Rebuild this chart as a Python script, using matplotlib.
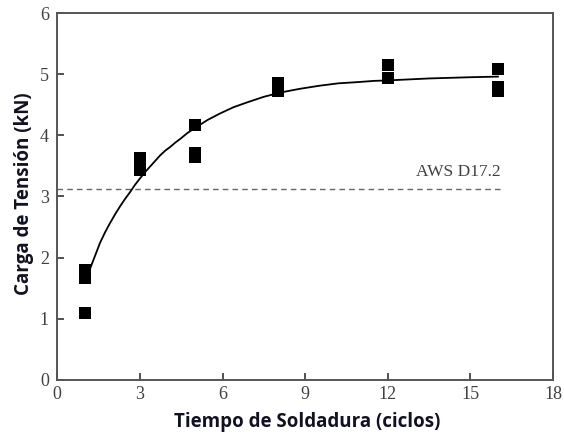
import matplotlib
matplotlib.use("Agg")
import matplotlib.pyplot as plt

# measured points (welding cycles vs tensile load, kN)
ciclos = [1, 1, 1, 3, 3, 5, 5, 5, 8, 8, 12, 12, 16, 16, 16]
carga = [1.80, 1.66, 1.09, 3.63, 3.43, 4.17, 3.71, 3.64, 4.85, 4.72, 5.15, 4.93, 5.09, 4.79, 4.72]

# fitted curve
curva_x = [1.0, 1.1, 1.19, 1.37, 1.55, 1.74, 1.92, 2.1, 2.28, 2.46, 2.64, 2.82,
           3.01, 3.19, 3.37, 3.55, 3.73, 3.92, 4.1, 4.28, 4.46, 4.73, 5.0, 5.45,
           5.92, 6.4, 6.9, 7.5, 8.1, 8.8, 9.5, 10.2, 10.9, 11.5, 12.1, 13.5, 15.0, 16.0]
curva_y = [1.62, 1.72, 1.82, 2.03, 2.24, 2.42, 2.57, 2.71, 2.84, 2.96, 3.07, 3.19,
           3.30, 3.40, 3.49, 3.58, 3.67, 3.75, 3.81, 3.88, 3.94, 4.04, 4.12, 4.25,
           4.36, 4.46, 4.54, 4.63, 4.70, 4.76, 4.81, 4.85, 4.87, 4.89, 4.90, 4.93, 4.95, 4.96]

# AWS D17.2 minimum
aws_nivel = 3.12
aws_fin = 16.1

x_ticks = [0, 3, 6, 9, 12, 15, 18]
y_ticks = [0, 1, 2, 3, 4, 5, 6]

fig = plt.figure(figsize=(5.64, 4.32), dpi=100)
ax = fig.add_axes([0.1016, 0.1204, 0.8789, 0.8495])

ax.plot([0, aws_fin], [aws_nivel, aws_nivel], color='#666666', lw=1.0,
        linestyle=(0, (4, 3)))
ax.text(aws_fin, aws_nivel + 0.15, 'AWS D17.2', ha='right', va='bottom',
        family='Liberation Serif', fontsize=12.5, color='#404040')

ax.plot(curva_x, curva_y, color='black', lw=1.3)
ax.plot(ciclos, carga, 's', color='black', markersize=8, markeredgewidth=0)

ax.set_xlim(0, 18)
ax.set_ylim(0, 6)
ax.set_xticks(x_ticks)
ax.set_yticks(y_ticks)

for s in ax.spines.values():
    s.set_color('#555555')
    s.set_linewidth(1.4)

ax.tick_params(direction='in', length=5, width=1.2, color='#333333',
               labelcolor='#404040', labelsize=13, top=False, right=False)
for lab in ax.get_xticklabels() + ax.get_yticklabels():
    lab.set_family('Liberation Serif')
ax.tick_params(axis='x', pad=4)
ax.tick_params(axis='y', pad=6)

ax.set_xlabel('Tiempo de Soldadura (ciclos)', family='Open Sans',
              fontweight='bold', fontsize=13.5, color='#111122')
ax.set_ylabel('Carga de Tensión (kN)', family='Open Sans',
              fontweight='bold', fontsize=13.5, color='#111122')
ax.xaxis.set_label_coords(0.505, -0.086)
ax.yaxis.set_label_coords(-0.047, 0.508)

fig.savefig('out.png', dpi=100)
